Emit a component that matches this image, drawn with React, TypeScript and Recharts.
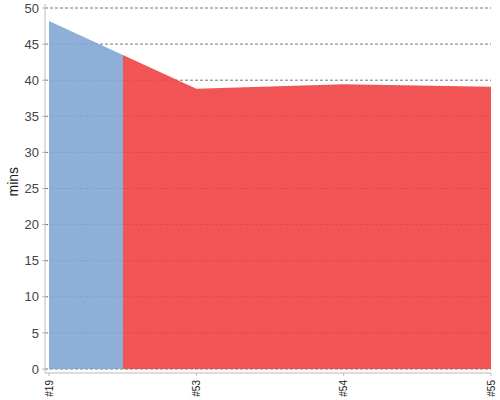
import { Area, AreaChart, ReferenceLine, XAxis, YAxis } from 'recharts'

const categories = ['#19', '#53', '#54', '#55']
const mins = [48.2, 38.8, 39.45, 39.1]
const yTicks = [0, 5, 10, 15, 20, 25, 30, 35, 40, 45, 50]

const chartData = categories.map((name, i) => ({ name, mins: mins[i] }))

// colour switches half way between the first and second run
const splitAt = 0.5 / (categories.length - 1)

const font = 'Liberation Sans, Arial, sans-serif'

function RotatedTick({ x, y, payload }: any) {
  return (
    <text
      x={x}
      y={y}
      dy="0.35em"
      transform={`rotate(-90 ${x} ${y})`}
      textAnchor="end"
      fontSize={10}
      fill="#222"
      fontFamily={font}
    >
      {payload.value}
    </text>
  )
}

export default function App() {
  return (
    <div style={{ position: 'absolute', left: 0, top: 0 }}>
      <AreaChart
        width={500}
        height={400}
        data={chartData}
        margin={{ top: 4, right: 9, bottom: 0, left: 0 }}
      >
        <defs>
          <linearGradient id="runFill" x1="0" y1="0" x2="1" y2="0">
            <stop offset={0} stopColor="#81a7d4" />
            <stop offset={splitAt} stopColor="#81a7d4" />
            <stop offset={splitAt} stopColor="#f04242" />
            <stop offset={1} stopColor="#f04242" />
          </linearGradient>
        </defs>
        {yTicks.map(t => (
          <ReferenceLine
            key={t}
            y={t}
            stroke="#777"
            strokeDasharray="3 2"
            zIndex={50}
          />
        ))}
        <XAxis
          dataKey="name"
          height={27}
          padding={{ left: 4, right: 0 }}
          tickSize={3}
          tickMargin={4}
          stroke="#bbb"
          tick={<RotatedTick />}
          interval={0}
        />
        <YAxis
          width={45}
          domain={[0, 50]}
          ticks={yTicks}
          padding={{ top: 4, bottom: 4 }}
          tickSize={3}
          tickMargin={3}
          stroke="#bbb"
          tick={{ fill: '#444', fontSize: 13, fontFamily: font }}
          label={{
            value: 'mins',
            angle: -90,
            position: 'insideLeft',
            offset: 13,
            dy: 8,
            fill: '#222',
            fontSize: 14,
            fontFamily: font,
          }}
        />
        <Area
          type="linear"
          dataKey="mins"
          stroke="none"
          fill="url(#runFill)"
          fillOpacity={0.9}
          isAnimationActive={false}
        />
      </AreaChart>
    </div>
  )
}
